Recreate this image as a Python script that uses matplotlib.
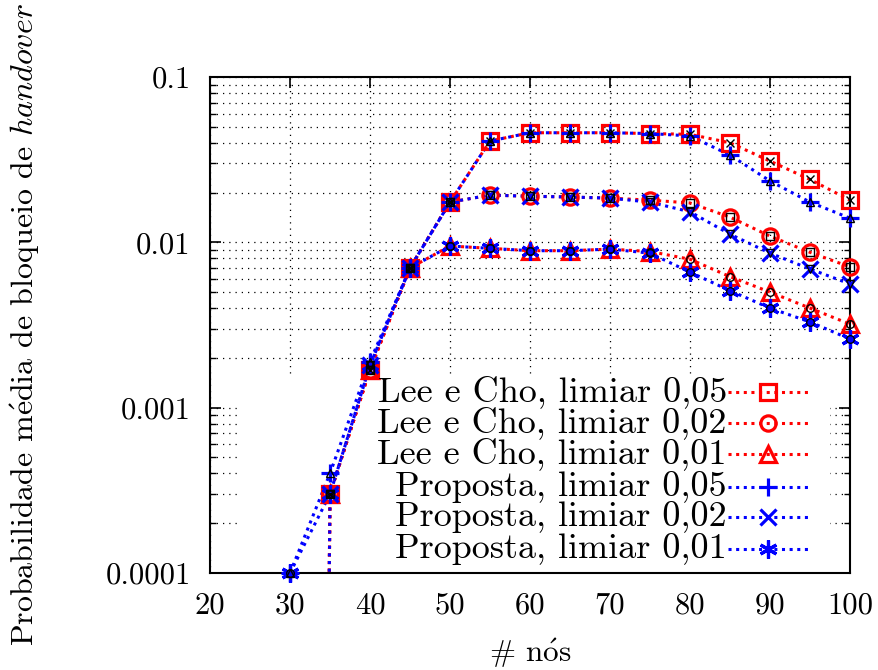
import matplotlib
matplotlib.use("Agg")
import matplotlib.pyplot as plt
from matplotlib.patches import Rectangle
from matplotlib.ticker import FixedLocator, FixedFormatter, LogLocator, NullFormatter
import numpy as np

plt.rcParams['font.family'] = ['cmr10', 'DejaVu Serif']
plt.rcParams['mathtext.fontset'] = 'cm'
plt.rcParams['axes.formatter.use_mathtext'] = True

# data
nodes = [30, 35, 40, 45, 50, 55, 60, 65, 70, 75, 80, 85, 90, 95, 100]
lee_05 = [0, 0.0003, 0.0017, 0.007, 0.0175, 0.041, 0.046, 0.046, 0.046, 0.0455, 0.045, 0.040, 0.031, 0.024, 0.018]
lee_02 = [0, 0.0003, 0.0017, 0.007, 0.0175, 0.0193, 0.019, 0.0188, 0.0185, 0.018, 0.0173, 0.0142, 0.0109, 0.0087, 0.0071]
lee_01 = [0, 0.0003, 0.0017, 0.007, 0.0095, 0.0092, 0.0089, 0.0089, 0.0091, 0.0088, 0.0079, 0.0062, 0.0050, 0.0040, 0.0032]
prop_05 = [0.0001, 0.0004, 0.0019, 0.007, 0.0175, 0.041, 0.046, 0.046, 0.046, 0.0455, 0.044, 0.0337, 0.0235, 0.0175, 0.014]
prop_02 = [0, 0.0003, 0.0018, 0.007, 0.0175, 0.0193, 0.019, 0.0188, 0.0185, 0.0175, 0.0153, 0.0112, 0.0086, 0.0069, 0.0056]
prop_01 = [0.0001, 0.0003, 0.0018, 0.007, 0.0095, 0.0092, 0.0089, 0.0089, 0.0091, 0.0086, 0.0066, 0.0051, 0.0040, 0.0033, 0.0026]

labels = ["Lee e Cho, limiar 0,05", "Lee e Cho, limiar 0,02", "Lee e Cho, limiar 0,01",
          "Proposta, limiar 0,05", "Proposta, limiar 0,02", "Proposta, limiar 0,01"]
series = [lee_05, lee_02, lee_01, prop_05, prop_02, prop_01]
colors = ['#ff0000'] * 3 + ['#0000ff'] * 3
markers = ['s', 'o', '^', '+', 'x', (6, 2, 0)]
msizes = [12, 11, 12, 13, 12, 13]
inner = ['x', 's', 'o', '^', 'v', 'o']

xticks = [20, 30, 40, 50, 60, 70, 80, 90, 100]
yticks = [0.0001, 0.001, 0.01, 0.1]
ytick_labels = ["0.0001", "0.001", "0.01", "0.1"]

fig = plt.figure(figsize=(8.79, 6.70), dpi=100)
ax = fig.add_axes([210 / 879, 1 - 573 / 670, 640 / 879, 496 / 670])

ax.set_yscale('log')
ax.set_xlim(20, 100)
ax.set_ylim(0.0001, 0.1)

# grid
ax.set_axisbelow(True)
ax.grid(True, which='major', axis='both', color='black', linestyle=(0, (1, 4)), linewidth=0.9)
ax.grid(True, which='minor', axis='y', color='black', linestyle=(0, (1, 4)), linewidth=0.9)

# opaque key box (covers the grid, under the data)
ax.add_patch(Rectangle((27 / 640, 0), 593 / 640, 197 / 496, transform=ax.transAxes,
                       facecolor='white', edgecolor='none', zorder=1))

x = np.array(nodes)
for i, s in enumerate(series):
    y = np.array(s, dtype=float)
    ax.plot(x, np.where(y > 0, y, 1e-30), color=colors[i], linestyle=(0, (1, 1.5)),
            linewidth=2.2, zorder=2 + i * 0.1)
    pos = y > 0
    ax.plot(x[pos], y[pos], linestyle='none', marker=markers[i], markersize=msizes[i],
            markerfacecolor='none', markeredgecolor=colors[i], markeredgewidth=2.3,
            clip_on=False, zorder=3 + i * 0.1)
for i, s in enumerate(series):
    y = np.array(s, dtype=float)
    pos = y > 0
    ax.plot(x[pos], y[pos], linestyle='none', marker=inner[i], markersize=5.5,
            markerfacecolor='none', markeredgecolor='black', markeredgewidth=1.0,
            clip_on=False, zorder=5)

# key drawn like gnuplot: text right-justified, sample on the right
row_y = [392, 423, 454, 487, 517, 549]
for i, lab in enumerate(labels):
    yy = (573 - row_y[i]) / 496
    ax.text((727 - 210) / 640, yy, lab, transform=ax.transAxes, ha='right', va='center',
            fontsize=26, zorder=6)
    ax.plot([(728 - 210) / 640, (812 - 210) / 640], [yy, yy], transform=ax.transAxes,
            color=colors[i], linestyle=(0, (1, 1.5)), linewidth=2.2, zorder=6)
    ax.plot([(768 - 210) / 640], [yy], transform=ax.transAxes, linestyle='none',
            marker=markers[i], markersize=msizes[i], markerfacecolor='none',
            markeredgecolor=colors[i], markeredgewidth=2.3, zorder=6)

ax.xaxis.set_major_locator(FixedLocator(xticks))
ax.set_xticklabels([str(t) for t in xticks])
ax.yaxis.set_major_locator(FixedLocator(yticks))
ax.yaxis.set_major_formatter(FixedFormatter(ytick_labels))
ax.yaxis.set_minor_locator(LogLocator(base=10, subs=np.arange(2, 10)))
ax.yaxis.set_minor_formatter(NullFormatter())

ax.tick_params(which='both', direction='in', top=True, right=True, labelsize=22, pad=14)
ax.tick_params(which='major', length=8, width=1.2)
ax.tick_params(which='minor', length=4, width=1.0)
for sp in ax.spines.values():
    sp.set_linewidth(1.5)

ax.set_xlabel(r"# n$\mathrm{\'{o}}$s", fontsize=22.5)
ax.xaxis.set_label_coords(0.5, -0.128)
ax.set_ylabel(r"Probabilidade m$\mathrm{\'{e}}$dia de bloqueio de $\mathit{handover}$", fontsize=23)
ax.yaxis.set_label_coords(-0.262, 0.5)

fig.savefig('out.png', dpi=100)
